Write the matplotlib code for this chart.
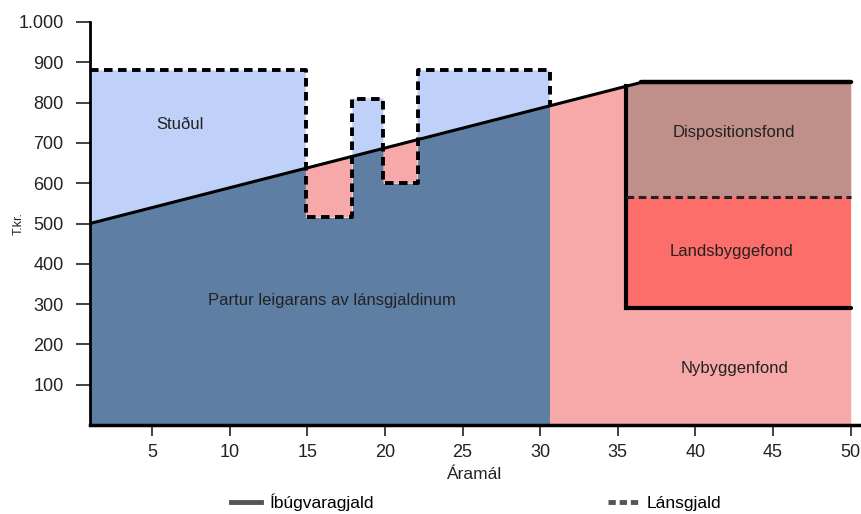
import numpy as np
import matplotlib
matplotlib.use('Agg')
from matplotlib import pyplot as plt
from matplotlib.lines import Line2D
from matplotlib.ticker import FuncFormatter

plt.rcParams['font.family'] = ['Liberation Sans', 'DejaVu Sans']

# Íbúgvaragjald (solid line)
rent_x = [1, 36.5, 50]
rent_y = [500, 850, 850]

# Lánsgjald (dashed steps)
loan_x = np.array([1, 14.9, 14.9, 17.9, 17.9, 19.9, 19.9, 22.1, 22.1, 30.6])
loan_y = np.array([880, 880, 515, 515, 810, 810, 600, 600, 880, 880])

# funds on the right
fund_x0 = 35.5
fund_x1 = 50
disp_bottom = 565
lands_bottom = 290

yticks = [100, 200, 300, 400, 500, 600, 700, 800, 900, 1000]
xticks = [5, 10, 15, 20, 25, 30, 35, 40, 45, 50]

dark_blue = '#5f7ea3'
light_blue = '#bfd1f8'
pink = '#f7a8a8'
brown = '#c08f8a'
red = '#fd6e6a'

fig = plt.figure(figsize=(8.61, 5.14), dpi=100)
ax = fig.add_axes([90/861, 1-425/514, 770/861, 403/514])

rent_at = np.interp(loan_x, rent_x, rent_y)

# left part
ax.fill_between(loan_x, 0, np.minimum(loan_y, rent_at), color=dark_blue, lw=0)
ax.fill_between(loan_x, rent_at, loan_y, where=loan_y >= rent_at, color=light_blue, lw=0, interpolate=True)
ax.fill_between(loan_x, loan_y, rent_at, where=loan_y <= rent_at, color=pink, lw=0, interpolate=True)

# right part
end_x = loan_x[-1]
rx = np.array([end_x, rent_x[1], rent_x[2]])
ax.fill_between(rx, 0, np.interp(rx, rent_x, rent_y), color=pink, lw=0)
fx = np.array([fund_x0, rent_x[1], fund_x1])
ax.fill_between(fx, disp_bottom, np.interp(fx, rent_x, rent_y), color=brown, lw=0)
ax.fill_between([fund_x0, fund_x1], lands_bottom, disp_bottom, color=red, lw=0)

# lines
ax.plot(rent_x, rent_y, color='black', lw=2.2, solid_capstyle='round')
ax.plot(rent_x[1:], rent_y[1:], color='black', lw=3.2, solid_capstyle='round')
ax.plot(list(loan_x) + [end_x], list(loan_y) + [np.interp(end_x, rent_x, rent_y)],
        color='black', lw=2.8, ls=(0, (2.2, 1.4)))
ax.plot([fund_x0, fund_x0], [lands_bottom, np.interp(fund_x0, rent_x, rent_y)], color='black', lw=3)
ax.plot([fund_x0, fund_x1], [lands_bottom, lands_bottom], color='black', lw=3, solid_capstyle='round')
ax.plot([fund_x0, fund_x1], [disp_bottom, disp_bottom], color='#222222', lw=2.2, ls=(0, (2.5, 1.5)))

# labels
tc = '#222222'
ax.text(6.8, 745, 'Stuðul', fontsize=12, color=tc, ha='center', va='center')
ax.text(16.6, 310, 'Partur leigarans av lánsgjaldinum', fontsize=12, color=tc, ha='center', va='center')
ax.text(42.5, 725, 'Dispositionsfond', fontsize=12, color=tc, ha='center', va='center')
ax.text(42.3, 430, 'Landsbyggefond', fontsize=12, color=tc, ha='center', va='center')
ax.text(42.5, 141, 'Nybyggenfond', fontsize=12, color=tc, ha='center', va='center')

ax.set_xlim(1, 50.6)
ax.set_ylim(0, 1000)
ax.set_xticks(xticks)
ax.set_yticks(yticks)
ax.yaxis.set_major_formatter(FuncFormatter(lambda v, p: '{:,.0f}'.format(v).replace(',', '.')))
ax.tick_params(axis='y', length=10, width=1.3, pad=9, labelsize=13, color='#333333', labelcolor=tc)
ax.tick_params(axis='x', length=8, width=1.3, pad=6, labelsize=13, color='#333333', labelcolor=tc)
for s in ['top', 'right']:
    ax.spines[s].set_visible(False)
ax.spines['left'].set_linewidth(2)
ax.spines['bottom'].set_linewidth(2.5)

ax.set_ylabel('T.kr.', fontsize=9, color=tc)
ax.yaxis.set_label_coords(-0.085, 0.5)
ax.set_xlabel('Áramál', fontsize=12.5, color=tc)
ax.xaxis.set_label_coords(0.5, -0.103)

handles = [Line2D([], [], color='#555555', lw=3.5),
           Line2D([], [], color='#555555', lw=3.5, ls=(0, (1.5, 0.8)))]
fig.legend(handles, ['Íbúgvaragjald', 'Lánsgjald'], loc='center', ncol=2,
           bbox_to_anchor=(0.553, 0.022), frameon=False, fontsize=12.5,
           columnspacing=13.5, handlelength=1.7, handletextpad=0.5)

fig.savefig('out.png', dpi=100)
